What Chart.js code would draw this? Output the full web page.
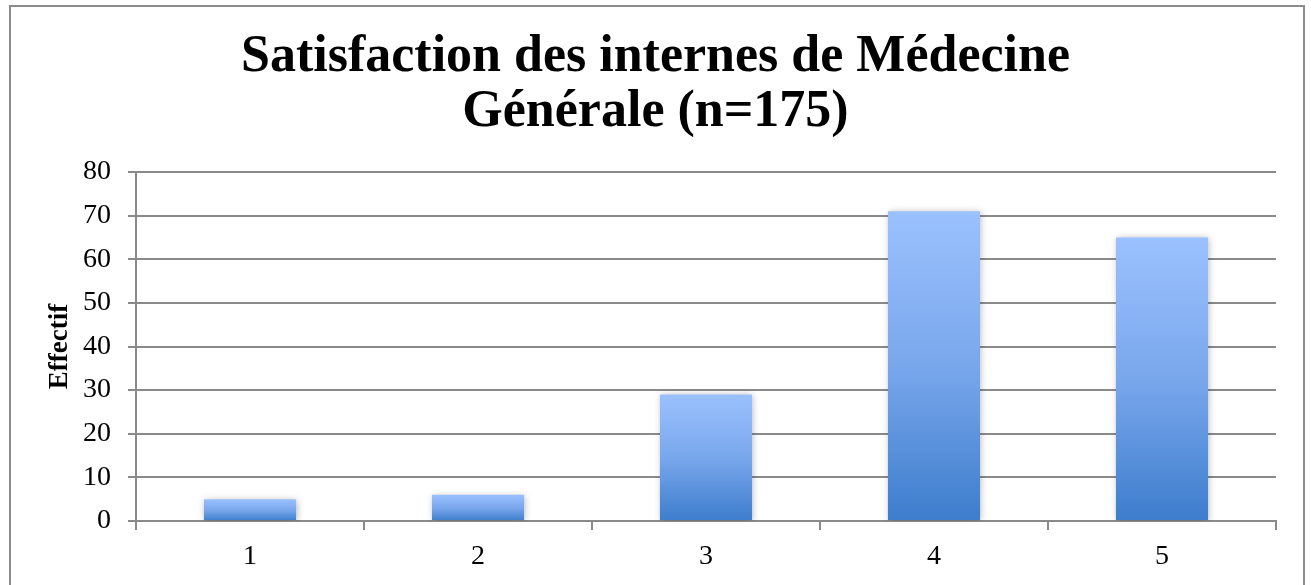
<!DOCTYPE html>
<html>
<head>
<meta charset="utf-8">
<script src="https://cdn.jsdelivr.net/npm/chart.js@4"></script>
<style>
html,body{margin:0;padding:0;background:#fff;}
#wrap{position:relative;width:1311px;height:585px;}
</style>
</head>
<body>
<div id="wrap"><canvas id="c" width="1311" height="585"></canvas></div>
<script>
const categories = ['1', '2', '3', '4', '5'];
const effectif = [5, 6, 29, 71, 65];
const titleLines = ['Satisfaction des internes de Médecine', 'Générale (n=175)'];
const yAxisTitle = 'Effectif';

const FONT = "'Liberation Serif', 'DejaVu Serif', serif";

function barGradient(ctx) {
  const chart = ctx.chart;
  const ca = chart.chartArea;
  if (!ca || ctx.type !== 'data') return '#6a9be0';
  const y = chart.scales.y;
  const top = y.getPixelForValue(effectif[ctx.dataIndex]);
  const bottom = y.getPixelForValue(0);
  const g = chart.ctx.createLinearGradient(0, top, 0, bottom);
  g.addColorStop(0, '#9bc1fe');
  g.addColorStop(0.5, '#79a7ec');
  g.addColorStop(1, '#3d7dcc');
  return g;
}

const frame = {
  id: 'frame',
  beforeDraw(chart) {
    const c = chart.ctx;
    c.save();
    c.fillStyle = '#fff';
    c.fillRect(0, 0, chart.width, chart.height);
    c.strokeStyle = '#8c8c8c';
    c.lineWidth = 2;
    c.strokeRect(10, 6, 1294, 590);
    c.restore();
  },
  afterDraw(chart) {
    const c = chart.ctx;
    c.save();
    c.fillStyle = '#000';
    c.font = "bold 52px " + FONT;
    c.textAlign = 'center';
    c.textBaseline = 'middle';
    const lh = 52 * 1.06;
    titleLines.forEach((t, i) => {
      c.fillText(t, chart.width / 2, 30 + lh / 2 + i * lh);
    });
    c.restore();
  }
};

const shadow = {
  id: 'shadow',
  beforeDatasetsDraw(chart) {
    const c = chart.ctx;
    c.save();
    c.shadowColor = 'rgba(0,0,0,0.28)';
    c.shadowBlur = 7;
    c.shadowOffsetX = 1;
    c.shadowOffsetY = 1;
  },
  afterDatasetsDraw(chart) {
    chart.ctx.restore();
  }
};

new Chart(document.getElementById('c'), {
  type: 'bar',
  data: {
    labels: categories,
    datasets: [{
      data: effectif,
      backgroundColor: barGradient,
      borderWidth: 0,
      categoryPercentage: 1,
      barPercentage: 0.404
    }]
  },
  plugins: [frame, shadow],
  options: {
    responsive: false,
    animation: false,
    devicePixelRatio: 1,
    layout: { padding: { left: 10, right: 35, top: 172, bottom: 0 } },
    plugins: {
      legend: { display: false },
      tooltip: { enabled: false },
      title: { display: false }
    },
    scales: {
      x: {
        offset: true,
        grid: {
          offset: true,
          drawOnChartArea: false,
          drawTicks: true,
          tickLength: 9,
          color: '#8a8a8a',
          lineWidth: 2
        },
        border: { display: true, color: '#8a8a8a', width: 2 },
        ticks: {
          color: '#000',
          font: { family: FONT, size: 28 },
          padding: 10
        },
        afterFit(s) { s.height = 64; }
      },
      y: {
        min: 0,
        max: 80,
        ticks: {
          stepSize: 10,
          color: '#000',
          font: { family: FONT, size: 28 },
          padding: 17
        },
        grid: {
          color: '#8a8a8a',
          lineWidth: 2,
          drawTicks: true,
          tickLength: 8
        },
        border: { display: true, color: '#8a8a8a', width: 2 },
        title: {
          display: true,
          text: yAxisTitle,
          color: '#000',
          font: { family: FONT, size: 27, weight: 'bold' },
          padding: { top: 34, bottom: 0 }
        },
        afterFit(s) { s.width = 126; }
      }
    }
  }
});
</script>
</body>
</html>
